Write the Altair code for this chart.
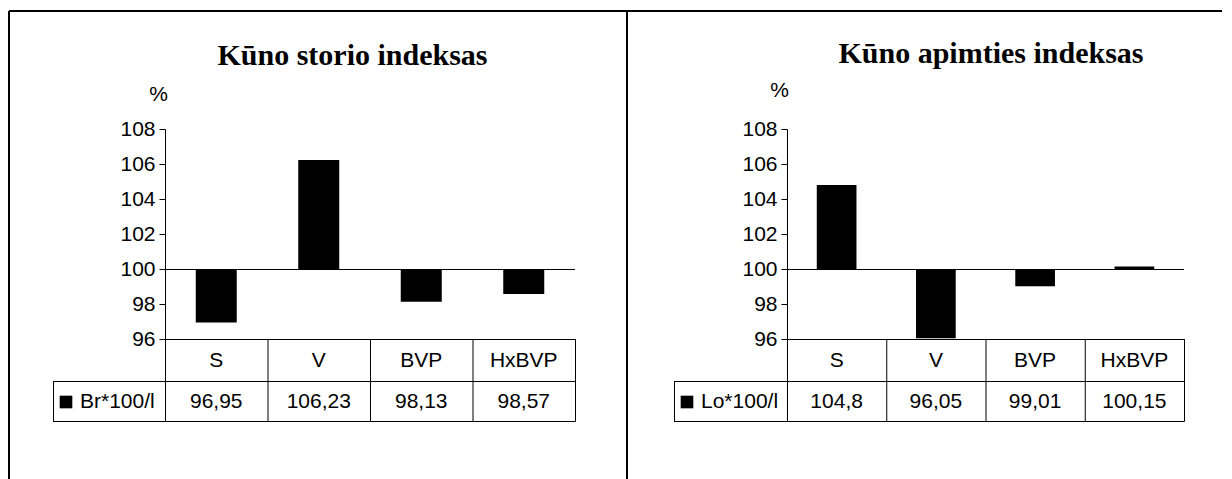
import altair as alt
import pandas as pd

# ---- data ----
CATEGORIES = ["S", "V", "BVP", "HxBVP"]
TITLES = ["Kūno storio indeksas", "Kūno apimties indeksas"]
SERIES = ["Br*100/l", "Lo*100/l"]
VALUES_STORIO = [96.95, 106.23, 98.13, 98.57]
VALUES_APIMTIES = [104.8, 96.05, 99.01, 100.15]
Y_TICKS = [96, 98, 100, 102, 104, 106, 108]
BASELINE = 100
Y_UNIT = "%"

SANS = "Liberation Sans"
SERIF = "Liberation Serif"
FS = 21
PLOT_H = 210
ROW1 = 252
ROW2 = 292


def fmt(v):
    return str(v).replace(".", ",")


def panel(title, series, values, width, title_x, title_y, pct_x, pct_y, legend_left, frame):
    df = pd.DataFrame({"cat": CATEGORIES, "val": values, "label": [fmt(v) for v in values]})
    one = pd.DataFrame({"b": [BASELINE]})
    yscale = alt.Scale(domain=[Y_TICKS[0], Y_TICKS[-1]], nice=False, zero=False)
    yaxis = alt.Axis(
        values=Y_TICKS, format="d", grid=False,
        domainColor="black", domainWidth=1, tickColor="black", tickSize=6, tickWidth=1,
        labelFont=SANS, labelFontSize=FS, labelColor="black", labelPadding=4,
        title=Y_UNIT, titleAngle=0, titleFont=SANS, titleFontSize=FS, titleFontWeight="normal",
        titleColor="black", titleX=pct_x, titleY=pct_y, titleAlign="center",
        titleBaseline="alphabetic",
    )
    xscale = alt.Scale(paddingInner=0, paddingOuter=0)
    X = lambda **kw: alt.X("cat:N", sort=CATEGORIES, scale=xscale, axis=None, **kw)
    base = alt.Chart(df)

    bars = base.mark_bar(color="black", width=alt.RelativeBandSize(0.4)).encode(
        x=X(), y=alt.Y("val:Q", scale=yscale, axis=yaxis), y2=alt.datum(BASELINE)
    )
    baseline = alt.Chart(one).mark_rule(color="black", strokeWidth=1, yOffset=0.5).encode(
        y=alt.Y("b:Q", scale=yscale, axis=yaxis)
    )

    def hrule(y, x1, x2, sw=1, color="black"):
        return alt.Chart(one).mark_rule(color=color, strokeWidth=sw).encode(
            x=alt.value(x1), x2=alt.value(x2), y=alt.value(y))

    def vrule(x, y1, y2, sw=1, color="black"):
        return alt.Chart(one).mark_rule(color=color, strokeWidth=sw).encode(
            x=alt.value(x), y=alt.value(y1), y2=alt.value(y2))

    cols = base.transform_filter(alt.datum.cat != CATEGORIES[0]).mark_rule(
        color="black", strokeWidth=1, xOffset=0.5).encode(
        x=X(bandPosition=0), y=alt.value(PLOT_H), y2=alt.value(ROW2 + 0.5))

    header = base.mark_text(font=SANS, fontSize=FS, color="black", baseline="middle").encode(
        x=X(), y=alt.value((PLOT_H + ROW1) / 2 + 0.5), text="cat:N")
    row = base.mark_text(font=SANS, fontSize=FS, color="black", baseline="middle").encode(
        x=X(), y=alt.value((ROW1 + ROW2) / 2 + 0.5), text="label:N")

    legend_sq = alt.Chart(one).mark_square(color="black", size=160, opacity=1).encode(
        x=alt.value(legend_left + 13), y=alt.value((ROW1 + ROW2) / 2 + 1))
    legend_tx = alt.Chart(one).mark_text(font=SANS, fontSize=FS, color="black",
                                         align="left", baseline="middle", text=series).encode(
        x=alt.value(legend_left + 27), y=alt.value((ROW1 + ROW2) / 2 + 0.5))

    ttl = alt.Chart(one).mark_text(font=SERIF, fontSize=30, fontWeight="bold", color="black",
                                   align="center", baseline="alphabetic", text=title).encode(
        x=alt.value(title_x), y=alt.value(title_y))

    layers = [
        bars, baseline, cols, header, row, legend_sq, legend_tx, ttl,
        hrule(PLOT_H + 0.5, 0, width + 0.5),
        hrule(ROW1 + 0.5, legend_left, width + 0.5),
        hrule(ROW2 + 0.5, legend_left, width + 0.5),
        vrule(legend_left + 0.5, ROW1 + 0.5, ROW2 + 0.5),
        vrule(0.5, PLOT_H, ROW2 + 0.5),
        vrule(width + 0.5, PLOT_H, ROW2 + 0.5),
    ]
    if frame:
        layers += [
            hrule(-118, -156, 1057, sw=2),
            vrule(-156, -118, 350, sw=2),
            vrule(462, -118, 350, sw=2),
        ]
    return alt.layer(*layers).properties(width=width, height=PLOT_H)


left = panel(TITLES[0], SERIES[0], VALUES_STORIO, 410, 187.5, -64, -7, -29, -112, True)
right = panel(TITLES[1], SERIES[1], VALUES_APIMTIES, 397, 204, -66, -8, -33, -113, False)

chart = alt.hconcat(left, right, spacing=212, bounds="flush").properties(
    padding={"left": 0, "top": 2, "right": 0, "bottom": 0},
    autosize=alt.AutoSizeParams(type="pad"),
    background="white",
).configure_view(stroke=None)

chart.save("out.html", embed_options={"renderer": "svg", "actions": False})
